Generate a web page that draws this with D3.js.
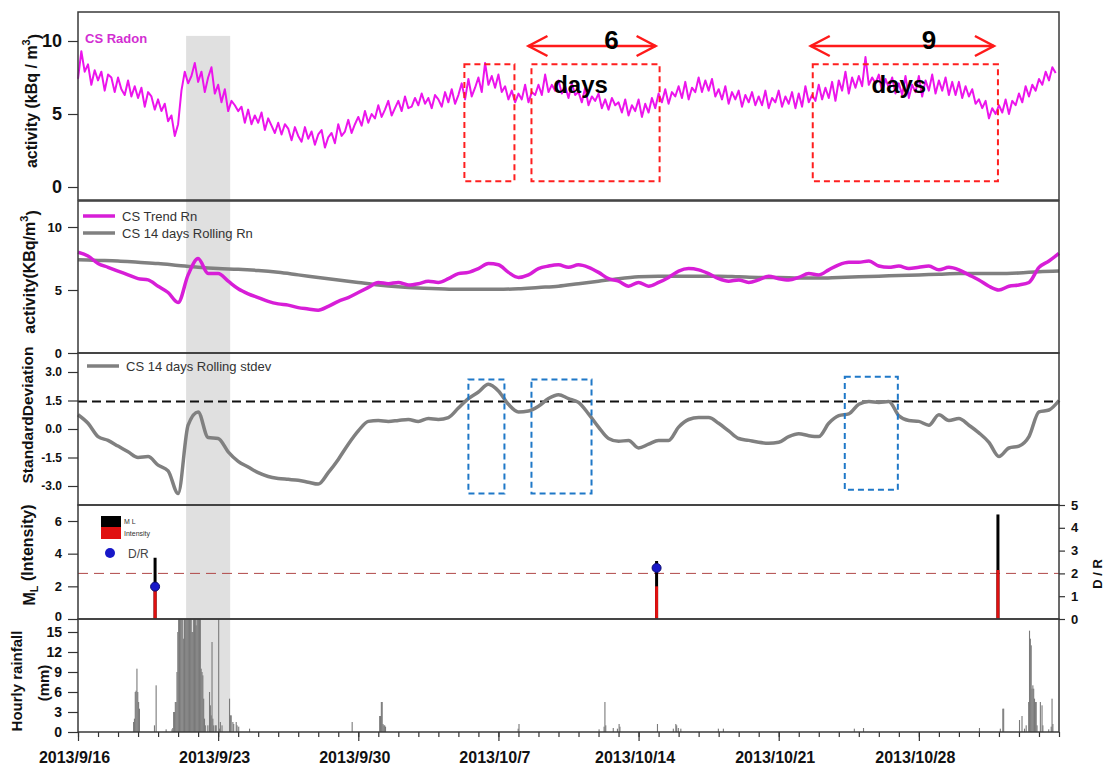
<!DOCTYPE html>
<html>
<head>
<meta charset="utf-8">
<script src="https://cdn.jsdelivr.net/npm/d3@7"></script>
<style>
body { margin: 0; background: #fff; }
text { font-family: Arial, "Liberation Sans", sans-serif; }
</style>
</head>
<body>
<svg id="chart" width="1105" height="767"></svg>
<script>
// ---------------- data ----------------
var startDate = Date.UTC(2013, 8, 16);
var totalDays = 49;
var majorTickDays = [0, 7, 14, 21, 28, 35, 42];

// CS Radon, kBq/m3, one value every 4 hours (6 per day)
var radon4h = [
  7.4,9.3,7.9,8.4,7.0,8.0, 7.3,7.9,6.6,7.7,7.5,6.5, 7.5,6.7,6.3,7.3,6.2,6.9, 6.1,6.8,5.5,6.5,6.2,5.3,
  6.0,5.2,5.7,4.5,4.9,3.5, 4.3,6.6,7.9,7.1,7.6,8.5, 7.2,7.9,6.5,7.5,8.2,6.4, 7.0,5.8,6.7,5.2,5.9,5.6,
  5.2,5.5,4.4,5.3,4.3,4.9, 4.4,5.1,3.9,4.7,4.2,3.7, 4.4,3.6,4.3,4.0,3.2,4.1, 3.5,3.1,4.1,3.3,3.8,2.9,
  3.6,3.9,2.7,3.4,3.7,3.0, 4.3,3.5,3.8,4.6,3.7,4.3, 4.8,4.2,5.2,4.4,5.0,4.7, 5.6,4.8,5.3,5.9,4.9,5.4,
  5.9,5.2,6.2,5.4,5.5,6.1, 5.6,6.4,5.7,6.1,5.4,6.3, 6.0,5.5,6.5,5.8,6.7,5.7, 6.3,7.1,6.0,7.4,6.2,6.8,
  7.5,6.5,8.5,7.0,7.6,6.8, 7.7,6.5,6.9,6.0,6.6,5.8, 6.4,6.0,7.0,5.8,6.5,6.3, 7.0,6.3,7.7,6.5,7.0,6.6,
  7.3,6.4,6.9,6.1,7.1,6.3, 6.5,5.8,6.8,5.6,6.2,5.9, 6.4,5.4,6.0,5.3,6.1,5.6, 5.8,5.1,6.0,4.9,5.6,5.2,
  6.0,4.8,5.7,5.1,6.1,5.4, 6.4,5.8,6.7,5.7,6.5,6.2, 6.9,6.1,7.2,6.0,6.8,6.5, 7.5,6.5,7.3,6.6,7.4,6.2,
  6.7,6.0,6.9,5.7,6.5,6.0, 6.6,5.5,6.3,5.8,6.5,5.6, 6.2,5.6,6.6,5.4,6.1,5.8, 6.6,5.5,6.2,5.7,6.5,5.4,
  6.4,5.5,6.9,5.8,6.3,5.9, 7.0,6.0,6.8,6.1,7.2,5.9, 7.3,6.6,7.9,6.4,7.5,6.8, 7.6,6.9,8.9,7.0,7.5,7.1,
  7.7,6.5,7.4,6.8,7.5,6.4, 7.1,6.3,7.6,6.1,7.0,6.5, 7.6,6.2,7.3,6.6,7.7,6.4, 7.3,6.6,7.5,6.3,7.2,6.3,
  7.2,6.1,6.9,6.2,6.7,5.7, 6.0,5.4,5.9,4.7,5.4,5.0, 5.6,5.1,6.0,5.0,5.9,5.6, 6.4,5.8,6.9,6.2,7.0,6.6,
  7.4,7.0,7.9,7.3,8.2,7.8
];

// CS Trend Rn, every half day from 9/16
var trendRn = [
  8.0,7.7, 7.1,6.8, 6.5,6.2, 5.9,5.8, 5.3,4.8, 4.0,6.2, 7.5,6.3, 6.3,5.7, 5.1,4.7, 4.4,4.1,
  3.9,3.8, 3.6,3.5, 3.4,3.7, 4.1,4.4, 4.8,5.2, 5.6,5.5, 5.6,5.4, 5.5,5.7, 5.6,5.9, 6.3,6.4,
  6.7,7.1, 7.0,6.4, 6.0,6.2, 6.7,6.9, 7.0,6.8, 7.0,6.8, 6.4,5.9, 5.7,5.3, 5.6,5.3, 5.6,6.0,
  6.5,6.7, 6.6,6.3, 5.9,5.7, 5.8,5.6, 5.8,6.1, 5.9,5.8, 6.0,6.3, 6.2,6.6, 7.0,7.2, 7.2,7.3,
  6.9,6.8, 6.9,6.7, 6.8,6.9, 6.6,6.8, 6.6,6.2, 5.8,5.3, 5.0,5.3, 5.4,5.6, 6.8,7.3, 7.9
];

// CS 14 days Rolling Rn, daily from 9/16
var rollingRn = [
  7.4,7.35,7.3,7.2,7.1,6.95,6.8,6.7,6.65,6.55, 6.4,6.2,6.0,5.8,5.6,5.4,5.25,5.15,5.1,5.05,
  5.05,5.05,5.1,5.2,5.3,5.5,5.7,5.9,6.05,6.1, 6.1,6.1,6.1,6.05,6.0,6.0,5.95,5.95,6.0,6.05,
  6.1,6.15,6.2,6.25,6.3,6.3,6.3,6.35,6.45,6.5
];

// CS 14 days Rolling stdev, every half day from 9/16
var rollingStd = [
  0.75,0.3, -0.4,-0.6, -0.9,-1.2, -1.5,-1.45, -1.9,-2.2, -3.4,0.2, 0.9,-0.45, -0.5,-1.2, -1.7,-2.0, -2.3,-2.5,
  -2.6,-2.65, -2.7,-2.8, -2.9,-2.3, -1.6,-0.8, -0.1,0.4, 0.45,0.4, 0.45,0.5, 0.4,0.55, 0.5,0.6, 1.1,1.6,
  1.95,2.35, 2.0,1.3, 0.9,0.95, 1.2,1.6, 1.8,1.6, 1.4,0.8, 0.1,-0.5, -0.65,-0.6, -1.0,-0.8, -0.6,-0.6,
  0.1,0.5, 0.6,0.6, 0.3,-0.1, -0.5,-0.6, -0.7,-0.75, -0.7,-0.4, -0.25,-0.35, -0.4,0.3, 0.7,0.8, 1.3,1.45,
  1.4,1.45, 0.7,0.45, 0.4,0.2, 0.75,0.45, 0.55,0.2, -0.2,-0.7, -1.45,-1.0, -0.9,-0.4, 0.9,1.0, 1.5
];
var stdThreshold = 1.45;

// earthquakes (day offset from 9/16)
var quakeDay = [3.85, 28.9, 45.95];
var quakeML = [3.75, 3.55, 6.4];
var quakeIntensity = [2, 2, 3];
var quakeDR = [1.42, 2.24, null];
var drThreshold = 2;

// hourly rainfall: [hour from 9/16 00:00, mm]
var rainfall = [
  [66,1.5],[67,2],[68,6],[69,6.2],[70,9.5],[71,6],[72,4.5],[73,3.5],
  [91,1],[93,7],[105,0.4],
  [112,0.4],[113,0.6],[114,3],[115,3],[116,4.5],[117,4.5],[118,9],[119,15],
  [120,18],[121,18],[122,18],[123,18],[124,18],[125,18],[126,14],[127,18],[128,18],[129,18],
  [130,18],[131,18],[132,18],[133,18],[134,18],[135,18],[136,15],[137,15],[138,18],[139,18],
  [140,18],[141,16],[142,18],[143,18],[144,18],[145,18],[146,18],
  [147,9.5],[148,9],[149,8.5],[150,5],[151,2],[152,1],
  [155,1],[157,6],[158,4],[159,2.5],[160,13.5],[161,2],[162,1],[164,1],[165,1],[168,18],[169,0.5],[170,1.5],[172,1],
  [181,5],[182,2.5],[183,2.5],[185,1.5],[186,1.2],[189,1.5],[190,1],[192,0.8],[205,0.5],
  [328,1.5],
  [361,2.4],[362,2.4],[363,4.5],[364,4.5],[365,1.2],[366,1],[367,1],[368,0.8],
  [527,0.5],[528,1.2],
  [624,0.4],[630,0.8],[631,4.5],[632,1],
  [641,0.6],[646,0.5],[648,1.2],[649,0.8],
  [694,1.2],
  [713,0.5],[716,1.2],[717,1],[719,0.6],[722,0.5],
  [767,0.5],[773,0.5],[930,0.5],[941,0.6],[1080,0.6],
  [1105,0.5],[1108,3.5],[1109,3.5],
  [1128,1.8],[1131,2.4],[1134,0.5],[1136,1],[1139,4.5],[1140,15.2],[1141,14],[1142,13],[1143,6.5],
  [1144,7],[1145,6.5],[1146,5],[1147,4.5],[1148,4.5],[1149,1],
  [1153,4.5],[1155,4],[1156,1],
  [1163,0.4],[1166,0.8],[1167,5],[1168,1.2]
];

// annotations, in days from 9/16
var shadeDays = [5.4, 7.6];
var redBoxDays = [[19.3, 21.8], [22.65, 29.05], [36.7, 45.95]];
var blueBoxDays = [[19.5, 21.3], [22.65, 25.65], [38.3, 40.95]];
var arrowDays = [[22.5, 28.85], [36.6, 45.75]];
var arrowLabels = ["6", "9"];
var arrowLabelDays = [26.65, 42.5];
var daysLabelDays = [25.1, 41.0];

// ---------------- drawing ----------------
var svg = d3.select("#chart");
var left = 78, right = 1059;
var dayMs = 864e5;
function dt(d) { return new Date(startDate + d * dayMs); }

var x = d3.scaleUtc().domain([dt(0), dt(totalDays)]).range([left, right]);

var y1 = d3.scaleLinear().domain([0, 10]).range([187, 41]);
var y2 = d3.scaleLinear().domain([0, 10]).range([353, 227]);
var y3 = d3.scaleLinear().domain([-3, 3]).range([486, 372]);
var y4 = d3.scaleLinear().domain([0, 6]).range([619, 521]);
var y4r = d3.scaleLinear().domain([0, 5]).range([619, 505]);
var y5 = d3.scaleLinear().domain([0, 15]).range([732, 632]);

var panelTops = [12, 201, 353, 505, 619];
var panelBottoms = [200, 353, 505, 619, 732];

// shaded rain period
svg.append("rect")
  .attr("x", x(dt(shadeDays[0])))
  .attr("y", y1(10.35))
  .attr("width", x(dt(shadeDays[1])) - x(dt(shadeDays[0])))
  .attr("height", 732 - y1(10.35))
  .attr("fill", "#e0e0e0");

// panel 1: radon
var radonLine = d3.line()
  .x(function(d, i) { return x(dt(i / 6)); })
  .y(function(d) { return y1(d); });
svg.append("path")
  .datum(radon4h)
  .attr("d", radonLine)
  .attr("fill", "none")
  .attr("stroke", "#ec14ec")
  .attr("stroke-width", 2)
  .attr("stroke-linejoin", "round");

svg.append("text").text("CS Radon")
  .attr("x", 85).attr("y", 43)
  .attr("font-size", 13).attr("font-weight", "bold").attr("fill", "#d22ed2");

// red dashed boxes
svg.selectAll("rect.redbox")
  .data(redBoxDays)
  .enter()
  .append("rect")
  .attr("class", "redbox")
  .attr("x", function(d) { return x(dt(d[0])); })
  .attr("y", y1(8.4))
  .attr("width", function(d) { return x(dt(d[1])) - x(dt(d[0])); })
  .attr("height", y1(0.4) - y1(8.4))
  .attr("fill", "none")
  .attr("stroke", "#ff1f1f")
  .attr("stroke-width", 2)
  .attr("stroke-dasharray", "6,4");

// arrows
var arrowY = 46;
arrowDays.forEach(function(a, i) {
  var x0 = x(dt(a[0])), x1 = x(dt(a[1]));
  var g = svg.append("g").attr("stroke", "#ff1a1a").attr("stroke-width", 2.5).attr("fill", "none");
  g.append("line").attr("x1", x0).attr("x2", x1).attr("y1", arrowY).attr("y2", arrowY);
  g.append("path").attr("d", "M" + (x0 + 19) + "," + (arrowY - 10) + "L" + x0 + "," + arrowY + "L" + (x0 + 19) + "," + (arrowY + 10));
  g.append("path").attr("d", "M" + (x1 - 19) + "," + (arrowY - 10) + "L" + x1 + "," + arrowY + "L" + (x1 - 19) + "," + (arrowY + 10));
  svg.append("text").text(arrowLabels[i])
    .attr("x", x(dt(arrowLabelDays[i]))).attr("y", 49)
    .attr("text-anchor", "middle").attr("font-size", 26).attr("font-weight", "bold").attr("fill", "#000");
  svg.append("text").text("days")
    .attr("x", x(dt(daysLabelDays[i]))).attr("y", 93)
    .attr("text-anchor", "middle").attr("font-size", 24).attr("font-weight", "bold").attr("fill", "#000");
});

// panel 2: trend + rolling
var halfDayLine = function(scale) {
  return d3.line()
    .x(function(d, i) { return x(dt(i / 2)); })
    .y(function(d) { return scale(d); })
    .curve(d3.curveMonotoneX);
};
svg.append("path")
  .datum(rollingRn)
  .attr("d", d3.line().x(function(d, i) { return x(dt(i)); }).y(function(d) { return y2(d); }).curve(d3.curveMonotoneX))
  .attr("fill", "none").attr("stroke", "#808080").attr("stroke-width", 3.5);
svg.append("path")
  .datum(trendRn)
  .attr("d", halfDayLine(y2))
  .attr("fill", "none").attr("stroke", "#d71ed7").attr("stroke-width", 3.5);

var leg2 = [["CS Trend Rn", "#d71ed7", 216], ["CS 14 days Rolling Rn", "#808080", 233]];
leg2.forEach(function(l) {
  svg.append("line").attr("x1", 83).attr("x2", 115).attr("y1", l[2]).attr("y2", l[2])
    .attr("stroke", l[1]).attr("stroke-width", 3.5);
  svg.append("text").text(l[0]).attr("x", 122).attr("y", l[2] + 5)
    .attr("font-size", 13).attr("fill", "#333");
});

// panel 3: rolling stdev
svg.append("line")
  .attr("x1", left).attr("x2", right)
  .attr("y1", y3(stdThreshold)).attr("y2", y3(stdThreshold))
  .attr("stroke", "#111").attr("stroke-width", 2).attr("stroke-dasharray", "9,5");
svg.append("path")
  .datum(rollingStd)
  .attr("d", halfDayLine(y3))
  .attr("fill", "none").attr("stroke", "#808080").attr("stroke-width", 3.5);
svg.append("line").attr("x1", 87).attr("x2", 119).attr("y1", 366).attr("y2", 366)
  .attr("stroke", "#808080").attr("stroke-width", 3.5);
svg.append("text").text("CS 14 days Rolling stdev").attr("x", 126).attr("y", 371)
  .attr("font-size", 13).attr("fill", "#333");

svg.selectAll("rect.bluebox")
  .data(blueBoxDays)
  .enter()
  .append("rect")
  .attr("class", "bluebox")
  .attr("x", function(d) { return x(dt(d[0])); })
  .attr("y", function(d, i) { return i == 2 ? y3(2.75) : y3(2.6); })
  .attr("width", function(d) { return x(dt(d[1])) - x(dt(d[0])); })
  .attr("height", function(d, i) { return i == 2 ? y3(-3.2) - y3(2.75) : y3(-3.4) - y3(2.6); })
  .attr("fill", "none")
  .attr("stroke", "#1f78c8")
  .attr("stroke-width", 2)
  .attr("stroke-dasharray", "6,4");

// panel 4: earthquakes
svg.append("line")
  .attr("x1", left).attr("x2", right)
  .attr("y1", y4r(drThreshold)).attr("y2", y4r(drThreshold))
  .attr("stroke", "#b04848").attr("stroke-width", 1).attr("stroke-dasharray", "10,6");
svg.selectAll("rect.ml")
  .data(quakeDay)
  .enter()
  .append("rect")
  .attr("class", "ml")
  .attr("x", function(d) { return x(dt(d)) - 1.5; })
  .attr("y", function(d, i) { return y4(quakeML[i]); })
  .attr("width", 3)
  .attr("height", function(d, i) { return y4(0) - y4(quakeML[i]); })
  .attr("fill", "#000");
svg.selectAll("rect.int")
  .data(quakeDay)
  .enter()
  .append("rect")
  .attr("class", "int")
  .attr("x", function(d) { return x(dt(d)) - 1.5; })
  .attr("y", function(d, i) { return y4(quakeIntensity[i]); })
  .attr("width", 3)
  .attr("height", function(d, i) { return y4(0) - y4(quakeIntensity[i]); })
  .attr("fill", "#e01010");
svg.selectAll("circle.dr")
  .data(quakeDay.filter(function(d, i) { return quakeDR[i] != null; }))
  .enter()
  .append("circle")
  .attr("class", "dr")
  .attr("cx", function(d) { return x(dt(d)); })
  .attr("cy", function(d, i) { return y4r(quakeDR[i]); })
  .attr("r", 4.5)
  .attr("fill", "#1818c8")
  .attr("stroke", "#0a0a70")
  .attr("stroke-width", 1);

svg.append("rect").attr("x", 101).attr("y", 516).attr("width", 20).attr("height", 11).attr("fill", "#000");
svg.append("rect").attr("x", 101).attr("y", 527).attr("width", 20).attr("height", 12).attr("fill", "#e01010");
svg.append("text").text("M L").attr("x", 124).attr("y", 524).attr("font-size", 7).attr("fill", "#333");
svg.append("text").text("Intensity").attr("x", 124).attr("y", 536).attr("font-size", 7).attr("fill", "#333");
svg.append("circle").attr("cx", 110).attr("cy", 553).attr("r", 5).attr("fill", "#1818c8");
svg.append("text").text("D/R").attr("x", 128).attr("y", 558).attr("font-size", 12).attr("fill", "#444");

// panel 5: rainfall
svg.append("clipPath").attr("id", "rainclip")
  .append("rect").attr("x", left).attr("y", 619).attr("width", right - left).attr("height", 113);
svg.append("g").attr("clip-path", "url(#rainclip)")
  .selectAll("rect")
  .data(rainfall)
  .enter()
  .append("rect")
  .attr("x", function(d) { return x(dt(d[0] / 24)); })
  .attr("y", function(d) { return y5(d[1]); })
  .attr("width", 1.1)
  .attr("height", function(d) { return y5(0) - y5(d[1]); })
  .attr("fill", "#7a7a7a");

// panel frames
panelTops.forEach(function(t, i) {
  svg.append("rect")
    .attr("x", left).attr("y", t)
    .attr("width", right - left).attr("height", panelBottoms[i] - t)
    .attr("fill", "none").attr("stroke", "#3a3a3a").attr("stroke-width", 1.5);
});

// axes
function styleAxis(g, size) {
  g.select(".domain").remove();
  g.attr("font-family", "Arial, 'Liberation Sans', sans-serif");
  g.selectAll("line").attr("stroke", "#333").attr("stroke-width", 1.2);
  g.selectAll("text").attr("font-size", size).attr("font-weight", "bold").attr("fill", "#111");
  return g;
}
function leftAxis(scale, vals, fmt, size) {
  var g = svg.append("g").attr("transform", "translate(" + left + ",0)")
    .call(d3.axisLeft(scale).tickValues(vals).tickSize(10).tickPadding(6).tickFormat(fmt));
  return styleAxis(g, size);
}
var plain = function(d) { return String(d); };
leftAxis(y1, [0, 5, 10], plain, 18);
leftAxis(y2, [0, 5, 10], plain, 13);
leftAxis(y3, [-3, -1.5, 0, 1.5, 3], function(d) { return d.toFixed(1); }, 12);
var ax4 = leftAxis(y4, [0, 2, 4, 6], plain, 13);
ax4.selectAll("text").filter(function(d) { return d === 0; }).attr("dy", "0.1em");
leftAxis(y5, [0, 3, 6, 9, 12, 15], plain, 14);

var gr = svg.append("g").attr("transform", "translate(" + right + ",0)")
  .call(d3.axisRight(y4r).tickValues([0, 1, 2, 3, 4, 5]).tickSize(6).tickPadding(6).tickFormat(plain));
styleAxis(gr, 13);

var minor = svg.append("g").attr("transform", "translate(0,732)")
  .call(d3.axisBottom(x).ticks(d3.utcDay.every(1)).tickSize(5).tickFormat(""));
styleAxis(minor, 10);
var major = svg.append("g").attr("transform", "translate(0,732)")
  .call(d3.axisBottom(x).tickValues(majorTickDays.map(dt)).tickSize(9).tickPadding(11)
    .tickFormat(function(d) { return d.getUTCFullYear() + "/" + (d.getUTCMonth() + 1) + "/" + d.getUTCDate(); }));
styleAxis(major, 16);
major.selectAll("text").attr("dx", -4);

// axis titles
function vlabel(cx, cy, size) {
  return svg.append("text")
    .attr("transform", "translate(" + cx + "," + cy + ") rotate(-90)")
    .attr("text-anchor", "middle").attr("dy", "0.35em")
    .attr("font-size", size).attr("font-weight", "bold").attr("fill", "#111");
}
var t1 = vlabel(31, 101, 16);
t1.append("tspan").text("activity (kBq / m");
t1.append("tspan").text("3").attr("font-size", 11).attr("dy", "-0.6em");
t1.append("tspan").text(")").attr("dy", "0.6em");
var t2 = vlabel(29, 272, 16);
t2.append("tspan").text("activity(KBq/m");
t2.append("tspan").text("3").attr("font-size", 11).attr("dy", "-0.6em");
t2.append("tspan").text(")").attr("dy", "0.6em");
vlabel(28, 415, 15.5).text("StandardDeviation");
var t4 = vlabel(29, 555, 16);
t4.append("tspan").text("M");
t4.append("tspan").text("L").attr("font-size", 11).attr("dy", "0.35em");
t4.append("tspan").text(" (Intensity)").attr("dy", "-0.35em");
vlabel(17, 681, 15).text("Hourly rainfall");
vlabel(44, 683, 15).text("(mm)");
svg.append("text").text("D / R")
  .attr("transform", "translate(1097,574) rotate(-90)")
  .attr("text-anchor", "middle").attr("dy", "0.35em")
  .attr("font-family", "'Times New Roman', 'Liberation Serif', serif")
  .attr("font-size", 13).attr("font-weight", "bold").attr("fill", "#111");
</script>
</body>
</html>
